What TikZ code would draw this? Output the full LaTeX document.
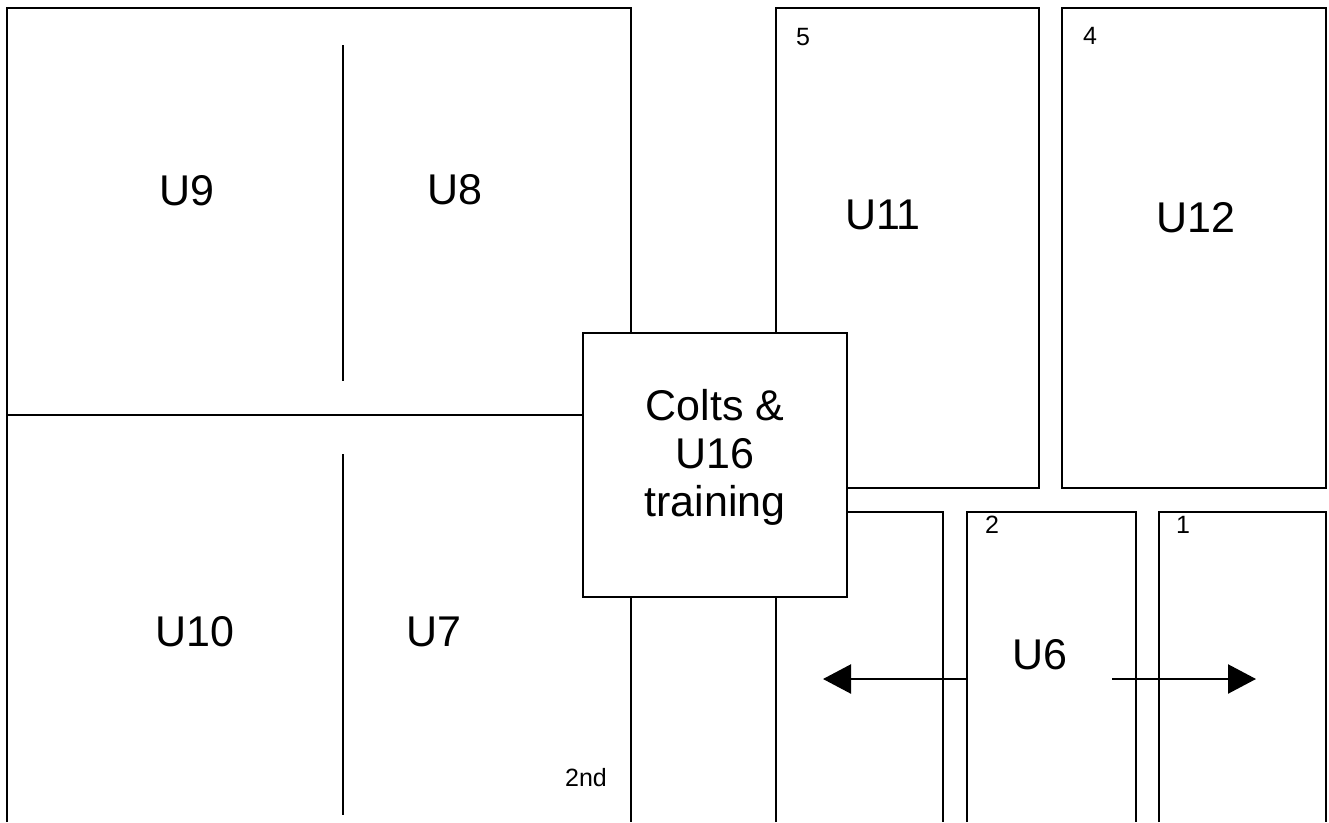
\documentclass[tikz,border=0pt]{standalone}
\usepackage{fontspec}
\setmainfont{Liberation Sans}
\usetikzlibrary{arrows.meta}
\tikzstyle{pitch} = [line width=2.3pt, draw=black]
\tikzstyle{zone} = [rectangle, draw=black, line width=2.3pt, fill=white, minimum size=264pt, inner sep=0pt]
\tikzstyle{big} = [font=\fontsize{43}{48}\selectfont, inner sep=0pt, align=center]
\tikzstyle{small} = [font=\fontsize{25}{29}\selectfont, inner sep=0pt]
\tikzstyle{arrow} = [line width=2.3pt, -{Triangle[length=28pt, width=29pt]}]

\begin{document}
\begin{tikzpicture}[x=1pt, y=-1pt]
	\useasboundingbox (0,0) rectangle (1329,822);
	% pitch outlines
	\draw[pitch] (7,822) -- (7,8) -- (631,8) -- (631,822);
	\draw[pitch] (343,45) -- (343,381);
	\draw[pitch] (343,454) -- (343,815);
	\draw[pitch] (7,415) -- (583,415);
	\draw[pitch] (776,822) -- (776,8) -- (1039,8) -- (1039,488) -- (776,488);
	\draw[pitch] (1062,8) rectangle (1326,488);
	\draw[pitch] (776,512) -- (943,512) -- (943,822);
	\draw[pitch] (967,822) -- (967,512) -- (1136,512) -- (1136,822);
	\draw[pitch] (1159,822) -- (1159,512) -- (1326,512) -- (1326,822);
	
	\node(colts) [zone] at (715,465) {};
	\node(colts_text) [big, yshift=8pt] at (colts) {Colts \&\\U16\\training};
	
	\node(u9) [big] at (187,191) {U9};
	\node(u8) [big] at (455,190) {U8};
	\node(u10) [big] at (195,632) {U10};
	\node(u7) [big] at (434,632) {U7};
	\node(u11) [big] at (883,215) {U11};
	\node(u12) [big] at (1196,218) {U12};
	\node(u6) [big] at (1040,655) {U6};
	
	\node(second) [small] at (586,778) {2nd};
	\node(num5) [small] at (803,37) {5};
	\node(num4) [small] at (1090,36) {4};
	\node(num2) [small] at (992,525) {2};
	\node(num1) [small] at (1183,525) {1};
	
	\coordinate(u6_west) at (967,679);
	\coordinate(u6_east) at (1112,679);
	\coordinate(west_tip) at (823,679);
	\coordinate(east_tip) at (1256,679);
	\draw[arrow] (u6_west) -- (west_tip);
	\draw[arrow] (u6_east) -- (east_tip);
\end{tikzpicture}
\end{document}
